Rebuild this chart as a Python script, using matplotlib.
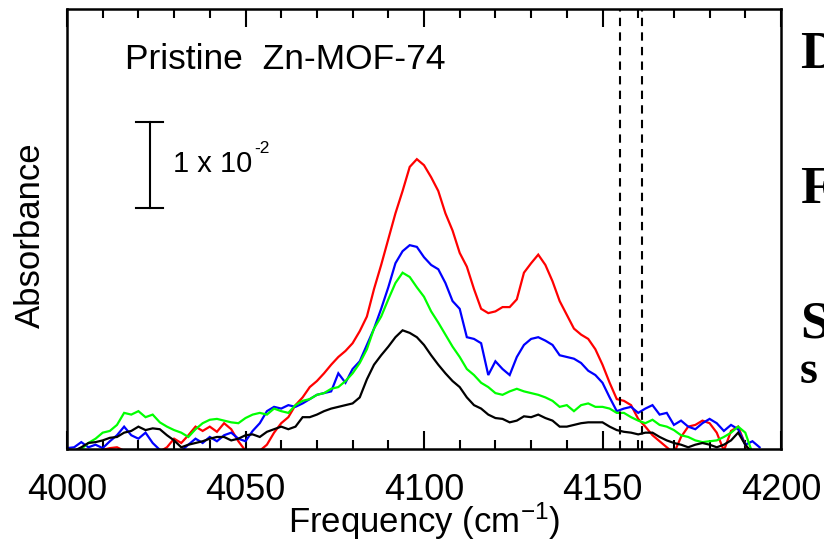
import numpy as np
import matplotlib
matplotlib.use("Agg")
import matplotlib.pyplot as plt
from matplotlib.ticker import MultipleLocator

plt.rcParams['font.family'] = ['Liberation Sans', 'DejaVu Sans']
plt.rcParams['mathtext.fontset'] = 'custom'
plt.rcParams['mathtext.rm'] = 'Liberation Sans'
plt.rcParams['mathtext.it'] = 'Liberation Sans'
plt.rcParams['mathtext.default'] = 'regular'

# Frequency grid (cm^-1)
freq = np.arange(4000, 4196, 2)

# Absorbance values in units of 1e-3
red = [-0.6, -0.3, -0.5, -0.2, -0.3, -0.1, 0.1, 0.2, -0.2, -0.5, -0.3, -0.6, -0.5, -0.3, 0.2,
       1.2, 0.7, 1.6, 2.6, 2.1, 2.6, 2.0, 3.0, 2.3, 0.9, -0.2, -0.3, -0.2, 0.5, 1.9,
       3.0, 3.7, 5.1, 6.0, 7.2, 7.9, 8.8, 9.8, 10.7, 11.4, 12.3, 13.7, 15.4, 18.6, 21.4,
       24.4, 27.4, 30.0, 32.8, 33.7, 33.0, 31.6, 30.0, 27.4, 25.4, 22.8, 21.2, 18.6, 16.3, 15.8,
       16.0, 16.5, 16.5, 17.4, 20.5, 21.6, 22.6, 21.4, 19.5, 17.2, 15.6, 14.0, 13.3, 12.8, 11.6,
       9.8, 7.7, 5.8, 5.6, 5.1, 3.5, 2.6, 1.6, 0.9, 0.2, -0.5, 1.4, 2.6, 2.8, 3.3,
       3.0, 1.9, -0.2, 2.1, 2.6, 0.5, -0.7, -0.9]

blue = [0.1, 0.2, 0.8, 0.2, 0.5, 0.1, 0.9, 1.6, 2.6, 1.6, 1.2, 1.9, 0.7, -0.1, -0.5,
        -0.3, -0.2, 0.5, 1.2, 0.7, 1.4, 0.9, 1.6, 1.9, 1.2, 0.9, 2.1, 3.0, 4.4, 4.9,
        4.7, 5.1, 4.9, 5.3, 5.8, 6.3, 6.5, 6.7, 8.8, 7.7, 9.3, 10.2, 12.1, 14.0, 16.3,
        18.8, 21.6, 23.0, 23.7, 23.5, 22.3, 21.4, 20.9, 19.3, 17.2, 16.3, 13.0, 12.8, 12.3, 8.6,
        10.2, 9.3, 8.6, 10.7, 12.1, 12.8, 13.0, 12.6, 12.1, 10.9, 10.7, 10.5, 10.0, 9.1, 8.6,
        7.7, 6.0, 4.4, 4.7, 4.9, 4.2, 4.7, 5.1, 4.0, 4.2, 2.8, 3.3, 2.6, 2.3, 3.0,
        3.5, 3.0, 2.1, 2.8, 2.3, 0.5, 0.9, 0.2]

green = [-0.5, -0.3, 0.0, 0.7, 1.2, 1.9, 2.1, 2.8, 4.2, 4.0, 4.4, 3.7, 4.0, 3.1, 2.6,
         2.2, 1.9, 1.4, 2.3, 3.0, 3.4, 3.5, 3.3, 3.1, 3.0, 3.6, 4.0, 4.2, 4.0, 4.7,
         4.4, 4.2, 5.1, 5.6, 5.8, 6.3, 6.5, 7.0, 7.2, 7.9, 8.8, 10.0, 11.6, 14.0, 15.4,
         17.4, 19.3, 20.5, 20.0, 18.8, 17.7, 16.0, 14.7, 13.3, 11.9, 10.7, 9.3, 8.6, 7.7, 7.2,
         6.5, 6.3, 6.7, 7.0, 6.7, 6.5, 6.3, 6.0, 5.6, 4.9, 5.1, 4.4, 5.1, 5.3, 4.9,
         4.9, 4.7, 4.2, 4.2, 3.7, 3.3, 3.0, 3.4, 2.8, 2.6, 2.2, 1.6, 1.4, 1.0, 0.8,
         0.9, 1.0, 1.4, 1.9, 2.6, 1.9, -0.5, -0.7]

black = [-0.3, -0.2, 0.2, 0.7, 0.8, 1.0, 1.3, 1.4, 1.9, 2.1, 2.6, 2.2, 2.4, 2.3, 1.6,
         1.0, 0.2, 0.5, 0.7, 0.9, 1.2, 1.4, 1.4, 1.0, 1.2, 1.6, 1.7, 1.4, 2.0, 2.3,
         2.6, 2.3, 2.6, 3.7, 3.7, 4.0, 4.4, 4.7, 4.9, 5.1, 5.3, 6.0, 8.1, 9.8, 10.9,
         11.9, 13.0, 13.8, 13.5, 13.0, 12.1, 10.9, 9.8, 8.8, 7.9, 7.2, 6.0, 5.1, 4.7, 4.0,
         3.6, 3.5, 3.1, 3.3, 3.8, 3.7, 4.0, 3.6, 3.3, 2.6, 2.6, 2.8, 3.0, 3.1, 3.1,
         3.1, 2.6, 2.2, 2.0, 1.9, 1.7, 1.9, 1.9, 1.4, 1.0, 0.7, 0.5, 0.2, 0.5, 0.7,
         0.5, 0.2, 0.5, 1.0, 1.9, 0.5, -0.5, -0.7]

dashed_freqs = [4155, 4161]
scale_bar = [28.0, 38.0]   # 1 x 10^-2 absorbance, in 1e-3 units
xticks = [4000, 4050, 4100, 4150, 4200]

fig = plt.figure(figsize=(8.24, 5.42), dpi=100)
ax = fig.add_axes([67/824, 1-449/542, 714/824, 440/542])

for ys, c in [(red, '#ff0000'), (blue, '#0000ff'), (green, '#00ff00'), (black, '#000000')]:
    ax.plot(freq, ys, color=c, lw=1.6, solid_joinstyle='miter')

for f in dashed_freqs:
    ax.axvline(f, color='black', lw=1.5, linestyle=(0, (4, 3)))

# scale bar
ax.plot([4023.2, 4023.2], scale_bar, color='black', lw=1.5)
for yv in scale_bar:
    ax.plot([4019.4, 4027.0], [yv, yv], color='black', lw=1.5)
ax.text(0.1485, 0.630, '1 x 10', transform=ax.transAxes, fontsize=21, ha='left', va='baseline')
ax.text(0.262, 0.672, '-2', transform=ax.transAxes, fontsize=12.5, ha='left', va='baseline')

ax.text(0.0812, 0.863, 'Pristine  Zn-MOF-74', transform=ax.transAxes, fontsize=25.5,
        ha='left', va='baseline')

ax.set_xlim(4000, 4200)
ax.set_ylim(0, 51.16)
ax.set_xticks(xticks)
ax.xaxis.set_minor_locator(MultipleLocator(10))
ax.set_yticks([])
ax.tick_params(axis='x', which='both', direction='in', top=True, bottom=True,
               width=1.5, labelsize=26, pad=17)
ax.tick_params(axis='x', which='major', length=13)
ax.tick_params(axis='x', which='minor', length=6.5)
for s in ax.spines.values():
    s.set_linewidth(1.8)

ax.set_xlabel('Frequency (cm$^{-1}$)', fontsize=25, labelpad=-5)
fig.text(30/824, 1-235/542, 'Absorbance', rotation=90, fontsize=25, ha='center', va='center')

# partially visible labels of neighbouring panel
for txt, yb, fs in [('D', 68, 38), ('F', 203, 38), ('S', 337, 38), ('s', 383, 33)]:
    fig.text(800/824, 1-yb/542, txt, fontsize=fs, fontweight='bold',
             family='Liberation Serif', ha='left', va='baseline')

fig.savefig('out.png', dpi=100)
